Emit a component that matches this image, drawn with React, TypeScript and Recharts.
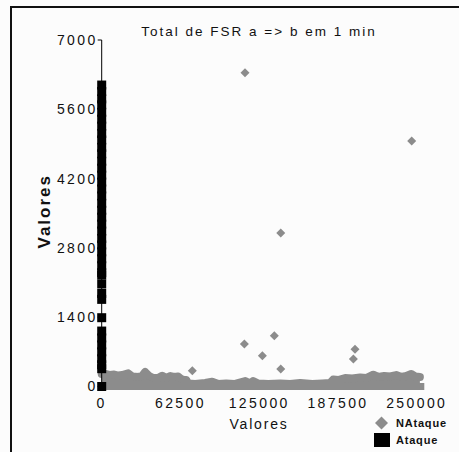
import React from 'react'
import { ComposedChart, Area, Scatter, XAxis, YAxis } from 'recharts'

const C = {
  ink: '#111111',
  grey: '#8c8c8c',
  bg: '#fcfcfc',
} as const

const FONT = '"Liberation Sans", Arial, sans-serif'

const X_TICKS = [0, 62500, 125000, 187500, 250000]
const Y_TICKS = [0, 1400, 2800, 4200, 5600, 7000]

// Ataque: every sample sits at x = 0
const ataqueY = [
  6090, 5960, 5810, 5690, 5540, 5400, 5260, 5110, 4980, 4830, 4700, 4550, 4410, 4270,
  4130, 3990, 3850, 3700, 3560, 3420, 3280, 3140, 2990, 2860, 2720, 2580, 2440, 2300,
  2250, 2070, 1880, 1760, 1390, 1120, 980, 840, 700, 560, 440, 360, 0,
]

// NAtaque: isolated points above the dense band
const outlierX = [113700, 246000, 142100, 113200, 137000, 127500, 142100, 201000, 199700, 71900]
const outlierY = [6340, 4960, 3100, 860, 1025, 620, 355, 755, 555, 320]

// NAtaque: upper edge of the dense band of points near zero
const bandX = [
  0, 3600, 6700, 9900, 13100, 16300, 21000, 24200, 29000, 32100, 34500, 37700, 40900, 44800,
  48000, 51200, 54400, 57500, 60700, 63100, 65500, 67100, 68600, 74200, 82100, 87700, 92500,
  98800, 105200, 113900, 117900, 120200, 124200, 132100, 141700, 149600, 157500, 167100,
  175000, 181300, 183700, 187700, 193200, 198800, 205100, 209900, 215500, 219400, 224200,
  229000, 233700, 237700, 241700, 245600, 248800, 252500,
]
const bandY = [
  252, 252, 232, 242, 222, 232, 266, 202, 192, 212, 292, 212, 171, 171,
  218, 171, 212, 192, 202, 151, 131, 131, 60, 50, 71, 97, 50,
  60, 50, 111, 60, 111, 60, 50, 60, 50, 71, 50,
  60, 71, 141, 131, 171, 161, 182, 171, 238, 192, 212,
  202, 232, 192, 212, 252, 202, 192,
]

const ataque = ataqueY.map((y) => ({ x: 0, y }))
const outliers = outlierX.map((x, i) => ({ x, y: outlierY[i] }))
const band = bandX.map((x, i) => ({ x, y: bandY[i] }))

function Diamond(props: any) {
  const { cx, cy } = props
  const r = 4.5
  return (
    <polygon
      points={`${cx},${cy - r} ${cx + r},${cy} ${cx},${cy + r} ${cx - r},${cy}`}
      fill={C.grey}
    />
  )
}

function Square(props: any) {
  const { cx, cy } = props
  return <rect x={cx - 4.5} y={cy - 4.5} width={9} height={9} fill="#000" />
}

const tickStyle = { fontSize: 14, fontFamily: FONT, fill: C.ink, letterSpacing: 2.4 }

export default function App() {
  return (
    <div
      style={{
        position: 'absolute',
        left: 0,
        top: 0,
        width: 459,
        height: 452,
        background: C.bg,
        fontFamily: FONT,
        overflow: 'hidden',
      }}
    >
      {/* frame */}
      <div
        style={{
          position: 'absolute',
          left: 10,
          top: 6,
          width: 449,
          height: 446,
          borderLeft: `2px solid ${C.ink}`,
          borderTop: `2px solid ${C.ink}`,
        }}
      />

      <ComposedChart
        width={459}
        height={452}
        margin={{ top: 40, right: 34.7, bottom: 20.5, left: 41.7 }}
        style={{ position: 'absolute', left: 0, top: 0 }}
      >
        <XAxis
          type="number"
          dataKey="x"
          domain={[0, 256000]}
          ticks={X_TICKS}
          interval={0}
          height={45}
          axisLine={{ stroke: C.grey, strokeWidth: 7 }}
          tickLine={{ stroke: 'transparent' }}
          tickSize={4}
          tickMargin={7.5}
          tick={tickStyle}
          label={{
            value: 'Valores',
            position: 'insideBottom',
            offset: 2.5,
            dx: -4,
            style: { fontSize: 14, fontFamily: FONT, fill: C.ink, letterSpacing: 1.8 },
          }}
        />
        <YAxis
          type="number"
          dataKey="y"
          domain={[0, 7000]}
          ticks={Y_TICKS}
          interval={0}
          width={60}
          axisLine={{ stroke: '#000' }}
          tickLine={{ stroke: '#000' }}
          tickSize={4}
          tickMargin={0}
          tick={tickStyle}
          label={{
            content: (p: any) => {
              const vb = p.viewBox
              const cx = vb.x + 3
              const cy = vb.y + vb.height / 2 - 2
              return (
                <text
                  x={cx}
                  y={cy}
                  transform={`rotate(-90, ${cx}, ${cy})`}
                  textAnchor="middle"
                  dominantBaseline="central"
                  style={{ fontSize: 17, fontWeight: 700, fontFamily: FONT, fill: C.ink, letterSpacing: 2 }}
                >
                  Valores
                </text>
              )
            },
          }}
        />
        <Area
          data={band}
          dataKey="y"
          type="linear"
          stroke={C.grey}
          strokeWidth={8}
          strokeLinejoin="round"
          strokeLinecap="round"
          fill={C.grey}
          fillOpacity={1}
          isAnimationActive={false}
          name="NAtaque"
        />
        <Scatter data={outliers} dataKey="y" shape={Diamond} isAnimationActive={false} name="NAtaque" />
        <Scatter data={ataque} dataKey="y" shape={Square} isAnimationActive={false} name="Ataque" />
      </ComposedChart>

      {/* title */}
      <div
        style={{
          position: 'absolute',
          left: 109,
          top: 24,
          width: 300,
          textAlign: 'center',
          fontSize: 13.5,
          lineHeight: '16px',
          letterSpacing: 2,
          color: C.ink,
        }}
      >
        Total de FSR a =&gt; b em 1 min
      </div>

      {/* legend */}
      <div style={{ position: 'absolute', left: 374, top: 414, fontSize: 11, fontWeight: 700, color: C.ink }}>
        <div style={{ display: 'flex', alignItems: 'center', height: 17 }}>
          <svg width={16} height={14} style={{ marginRight: 6 }}>
            <polygon points="7.5,0.5 14,7 7.5,13.5 1,7" fill={C.grey} />
          </svg>
          <span style={{ letterSpacing: 0.8 }}>NAtaque</span>
        </div>
        <div style={{ display: 'flex', alignItems: 'center', height: 18 }}>
          <svg width={16} height={14} style={{ marginRight: 6 }}>
            <rect x={0} y={0} width={16} height={14} fill="#000" />
          </svg>
          <span style={{ letterSpacing: 0.8 }}>Ataque</span>
        </div>
      </div>
    </div>
  )
}
